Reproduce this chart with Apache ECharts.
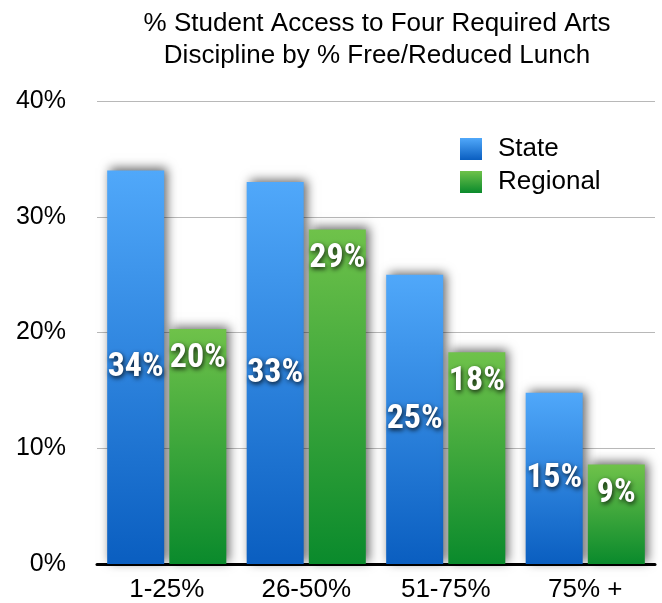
<!DOCTYPE html>
<html>
<head>
<meta charset="utf-8">
<script src="https://cdn.jsdelivr.net/npm/echarts@6/dist/echarts.min.js"></script>
<style>html,body{margin:0;padding:0;background:#fff}#c{width:662px;height:603px}</style>
</head>
<body>
<div id="c"></div>
<script>
const titleText = '% Student Access to Four Required Arts\nDiscipline by % Free/Reduced Lunch';
const categories = ['1-25%', '26-50%', '51-75%', '75% +'];
const stateValues = [34, 33, 25, 14.8];
const regionalValues = [20.3, 28.9, 18.3, 8.6];
const seriesNames = ['State', 'Regional'];

const FONT = '"Liberation Sans", Helvetica, Arial, sans-serif';
const LABEL_FONT = '"Roboto Condensed", "Open Sans Condensed", "Noto Sans Condensed", "Liberation Sans Narrow", "DejaVu Sans Condensed", "Liberation Sans", sans-serif';

function grad(top, bottom) {
  return new echarts.graphic.LinearGradient(0, 0, 0, 1, [
    { offset: 0, color: top }, { offset: 1, color: bottom }
  ]);
}
const blue = grad('#50a8fa', '#0a5ec0');
const green = grad('#6fc24a', '#0a8a2c');

const labelBase = {
  show: true,
  color: '#fff',
  fontFamily: LABEL_FONT,
  fontWeight: 'bold',
  fontSize: 34,
  textShadowColor: 'rgba(0,0,0,0.85)',
  textShadowBlur: 5,
  textShadowOffsetX: 1,
  textShadowOffsetY: 2,
  formatter: p => Math.round(p.value) + '%'
};
const shadow = {
  shadowBlur: 10,
  shadowColor: 'rgba(0,0,0,0.6)',
  shadowOffsetX: 3,
  shadowOffsetY: -2
};

const chart = echarts.init(document.getElementById('c'), null, { renderer: 'canvas' });
chart.setOption({
  animation: false,
  backgroundColor: '#fff',
  title: {
    text: titleText,
    left: 372,
    textAlign: 'center',
    top: 3,
    textStyle: { fontFamily: FONT, fontWeight: 'normal', fontSize: 26, lineHeight: 32, color: '#000' }
  },
  legend: {
    orient: 'vertical',
    left: 460,
    top: 136,
    padding: 0,
    itemWidth: 22,
    itemHeight: 22,
    itemGap: 7,
    icon: 'rect',
    data: seriesNames,
    itemStyle: { shadowBlur: 0, shadowOffsetX: 0, shadowOffsetY: 0 },
    textStyle: { fontFamily: FONT, fontSize: 26, color: '#000', padding: [0, 0, 0, 11] }
  },
  grid: { left: 97, right: 7, top: 101, bottom: 38, containLabel: false },
  xAxis: {
    type: 'category',
    data: categories,
    axisTick: { show: false },
    axisLine: { lineStyle: { color: '#000', width: 3 } },
    axisLabel: { fontFamily: FONT, fontSize: 26, color: '#000', margin: 13 }
  },
  yAxis: {
    type: 'value',
    min: 0, max: 40, interval: 10,
    axisLine: { show: false },
    axisTick: { show: false },
    splitLine: { lineStyle: { color: '#b8b8b8', width: 1 } },
    axisLabel: { fontFamily: FONT, fontSize: 25, color: '#000', margin: 31, formatter: '{value}%' }
  },
  series: [
    {
      name: seriesNames[0], type: 'bar', data: stateValues,
      barWidth: 57, barGap: '9%',
      itemStyle: Object.assign({ color: blue }, shadow),
      label: Object.assign({ position: 'inside' }, labelBase)
    },
    {
      name: seriesNames[1], type: 'bar', data: regionalValues,
      barWidth: 57, barGap: '9%',
      itemStyle: Object.assign({ color: green }, shadow),
      label: Object.assign({ position: 'insideTop', distance: 12 }, labelBase)
    }
  ]
});
</script>
</body>
</html>
